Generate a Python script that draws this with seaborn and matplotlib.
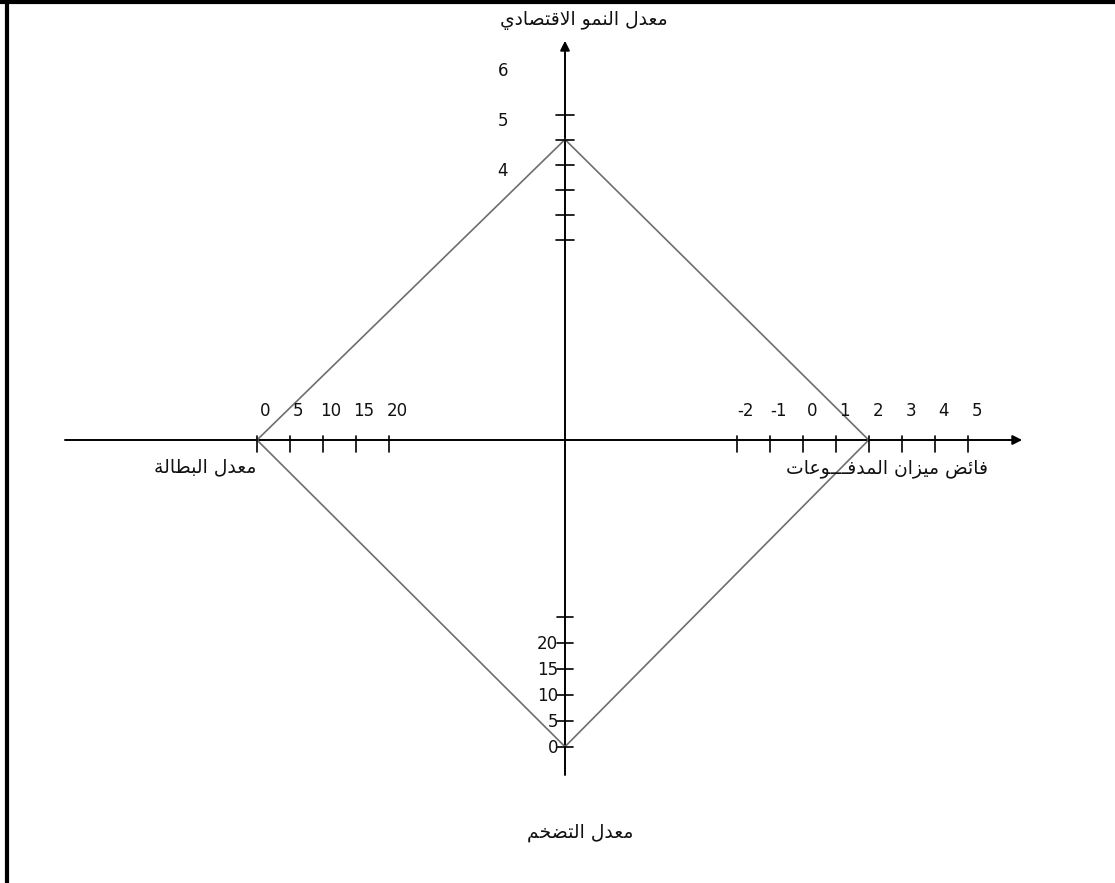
import matplotlib
matplotlib.use("Agg")
import matplotlib.pyplot as plt
import seaborn as sns
import pandas as pd

# ---------------- data ----------------
growth_ticks = [5, 4.5, 4, 3.5, 3, 2.5]          # معدل النمو الاقتصادي (top axis)
growth_labels = [6, 5, 4]
unemp_ticks = [0, 5, 10, 15, 20]                  # معدل البطالة (left axis)
unemp_labels = ["0", "5", "10", "15", "20"]
bop_ticks = [-2, -1, 0, 1, 2, 3, 4, 5]           # فائض ميزان المدفوعات (right axis)
bop_labels = ["-2", "-1", "0", "1", "2", "3", "4", "5"]
infl_ticks = [0, 5, 10, 15, 20, 25]              # معدل التضخم (bottom axis)
infl_labels = ["0", "5", "10", "15", "20"]

growth_value = 4.5
bop_value = 2
infl_value = 0
unemp_value = 0

title_growth = "معدل النمو الاقتصادي"
title_unemp = "معدل البطالة"
title_bop = "فائض ميزان المدفـــوعات"
title_infl = "معدل التضخم"

# ---------------- simple Arabic shaping (visual order) ----------------
FORMS = {
    'ء': ('\uFE80', None, None, None),
    'آ': ('\uFE81', '\uFE82', None, None),
    'أ': ('\uFE83', '\uFE84', None, None),
    'ؤ': ('\uFE85', '\uFE86', None, None),
    'إ': ('\uFE87', '\uFE88', None, None),
    'ئ': ('\uFE89', '\uFE8A', '\uFE8B', '\uFE8C'),
    'ا': ('\uFE8D', '\uFE8E', None, None),
    'ب': ('\uFE8F', '\uFE90', '\uFE91', '\uFE92'),
    'ة': ('\uFE93', '\uFE94', None, None),
    'ت': ('\uFE95', '\uFE96', '\uFE97', '\uFE98'),
    'ث': ('\uFE99', '\uFE9A', '\uFE9B', '\uFE9C'),
    'ج': ('\uFE9D', '\uFE9E', '\uFE9F', '\uFEA0'),
    'ح': ('\uFEA1', '\uFEA2', '\uFEA3', '\uFEA4'),
    'خ': ('\uFEA5', '\uFEA6', '\uFEA7', '\uFEA8'),
    'د': ('\uFEA9', '\uFEAA', None, None),
    'ذ': ('\uFEAB', '\uFEAC', None, None),
    'ر': ('\uFEAD', '\uFEAE', None, None),
    'ز': ('\uFEAF', '\uFEB0', None, None),
    'س': ('\uFEB1', '\uFEB2', '\uFEB3', '\uFEB4'),
    'ش': ('\uFEB5', '\uFEB6', '\uFEB7', '\uFEB8'),
    'ص': ('\uFEB9', '\uFEBA', '\uFEBB', '\uFEBC'),
    'ض': ('\uFEBD', '\uFEBE', '\uFEBF', '\uFEC0'),
    'ط': ('\uFEC1', '\uFEC2', '\uFEC3', '\uFEC4'),
    'ظ': ('\uFEC5', '\uFEC6', '\uFEC7', '\uFEC8'),
    'ع': ('\uFEC9', '\uFECA', '\uFECB', '\uFECC'),
    'غ': ('\uFECD', '\uFECE', '\uFECF', '\uFED0'),
    'ف': ('\uFED1', '\uFED2', '\uFED3', '\uFED4'),
    'ق': ('\uFED5', '\uFED6', '\uFED7', '\uFED8'),
    'ك': ('\uFED9', '\uFEDA', '\uFEDB', '\uFEDC'),
    'ل': ('\uFEDD', '\uFEDE', '\uFEDF', '\uFEE0'),
    'م': ('\uFEE1', '\uFEE2', '\uFEE3', '\uFEE4'),
    'ن': ('\uFEE5', '\uFEE6', '\uFEE7', '\uFEE8'),
    'ه': ('\uFEE9', '\uFEEA', '\uFEEB', '\uFEEC'),
    'و': ('\uFEED', '\uFEEE', None, None),
    'ى': ('\uFEEF', '\uFEF0', None, None),
    'ي': ('\uFEF1', '\uFEF2', '\uFEF3', '\uFEF4'),
    'لا': ('\uFEFB', '\uFEFC', None, None),
    'لأ': ('\uFEF7', '\uFEF8', None, None),
    'لإ': ('\uFEF9', '\uFEFA', None, None),
    'لآ': ('\uFEF5', '\uFEF6', None, None),
    'ـ': ('ـ', 'ـ', 'ـ', 'ـ'),
}


def shape_arabic(text):
    units = []
    i = 0
    while i < len(text):
        if text[i] == 'ل' and i + 1 < len(text) and text[i:i + 2] in FORMS:
            units.append(text[i:i + 2])
            i += 2
        else:
            units.append(text[i])
            i += 1

    def joins_next(u):
        f = FORMS.get(u)
        return f is not None and f[2] is not None

    def joins_prev(u):
        f = FORMS.get(u)
        return f is not None and f[1] is not None

    out = []
    for k, u in enumerate(units):
        f = FORMS.get(u)
        if f is None:
            out.append(u)
            continue
        prev_ok = k > 0 and joins_next(units[k - 1]) and joins_prev(u)
        next_ok = k + 1 < len(units) and joins_next(u) and joins_prev(units[k + 1])
        if prev_ok and next_ok:
            out.append(f[3])
        elif prev_ok:
            out.append(f[1])
        elif next_ok:
            out.append(f[2])
        else:
            out.append(f[0])
    return "".join(reversed(out))


# ---------------- layout (pixel canvas) ----------------
W, H = 1115, 883
OX, OY = 565, 440            # origin of the cross

def y_growth(v):
    return 139.5 - (v - 4.5) * 50.0

def x_unemp(v):
    return 257.0 + v * 6.6

def x_bop(v):
    return 802.7 + v * 33.0

def y_infl(v):
    return 746.7 - v * 5.2


sns.set_theme(style="white")
plt.rcParams['font.family'] = ['DejaVu Sans']

fig = plt.figure(figsize=(W / 100, H / 100), dpi=100)
ax = fig.add_axes([0, 0, 1, 1])
ax.set_xlim(0, W)
ax.set_ylim(H, 0)
ax.axis("off")

# frame (top and left borders)
ax.plot([7, 7], [0, H], color="black", lw=3, solid_capstyle="butt")
ax.plot([0, W], [1.5, 1.5], color="black", lw=3, solid_capstyle="butt")

# main axes with arrows
ax.plot([65, 1014], [OY, OY], color="black", lw=1.4)
ax.plot([OX, OX], [48, 775], color="black", lw=1.4)
ax.annotate("", xy=(1025, OY), xytext=(1010, OY),
            arrowprops=dict(arrowstyle="-|>", color="black", lw=1.4, mutation_scale=14))
ax.annotate("", xy=(OX, 38), xytext=(OX, 52),
            arrowprops=dict(arrowstyle="-|>", color="black", lw=1.4, mutation_scale=14))

# diamond (magic square)
diamond = pd.DataFrame({
    "x": [OX, x_bop(bop_value), OX, x_unemp(unemp_value), OX],
    "y": [y_growth(growth_value), OY, y_infl(infl_value), OY, y_growth(growth_value)],
})
sns.lineplot(data=diamond, x="x", y="y", sort=False, estimator=None,
             color="#6e6e6e", lw=1.2, ax=ax)

# ticks
for v in growth_ticks:
    y = y_growth(v)
    ax.plot([OX - 9, OX + 9], [y, y], color="black", lw=1.2)
for v in infl_ticks:
    y = y_infl(v)
    ax.plot([OX - 8, OX + 8], [y, y], color="black", lw=1.2)
for v in unemp_ticks:
    x = x_unemp(v)
    ax.plot([x, x], [OY - 4, OY + 12], color="black", lw=1.2)
for v in bop_ticks:
    x = x_bop(v)
    ax.plot([x, x], [OY - 4, OY + 12], color="black", lw=1.2)

fs = 12
fs_ar = 13.5
# tick labels
for v in growth_labels:
    ax.text(503, y_growth(v) + 7, str(v), ha="center", va="center", fontsize=fs, color="#111111")
for v, lab in zip(unemp_ticks, unemp_labels):
    ax.text(x_unemp(v) + 8, 411, lab, ha="center", va="center", fontsize=fs, color="#111111")
for v, lab in zip(bop_ticks, bop_labels):
    ax.text(x_bop(v) + 9, 411, lab, ha="center", va="center", fontsize=fs, color="#111111")
for v, lab in zip(infl_ticks, infl_labels):
    ax.text(558, y_infl(v) + 1, lab, ha="right", va="center", fontsize=fs, color="#111111")

# axis titles
ax.text(584, 20, shape_arabic(title_growth), ha="center", va="center", fontsize=fs_ar, color="#111111")
ax.text(205, 467, shape_arabic(title_unemp), ha="center", va="center", fontsize=fs_ar, color="#111111")
ax.text(887, 469, shape_arabic(title_bop), ha="center", va="center", fontsize=fs_ar, color="#111111")
ax.text(580, 833, shape_arabic(title_infl), ha="center", va="center", fontsize=fs_ar, color="#111111")

fig.savefig("out.png", dpi=100)
